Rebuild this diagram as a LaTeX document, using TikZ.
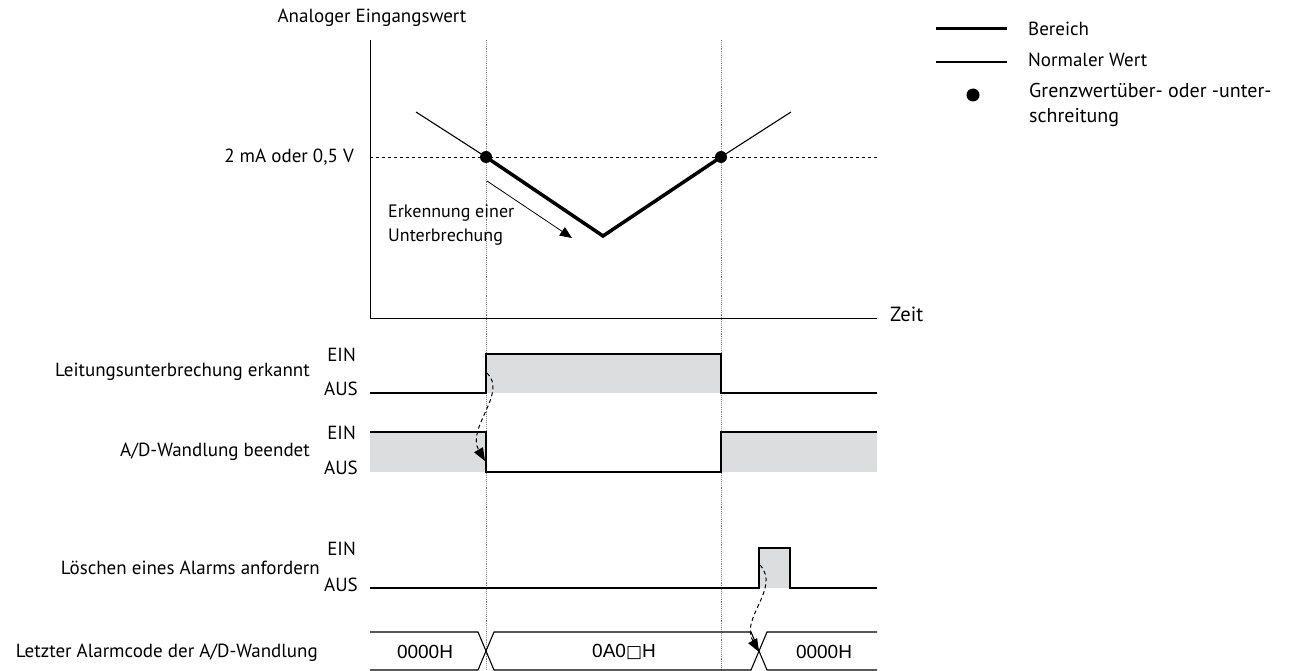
\documentclass[tikz,border=0pt]{standalone}
\usepackage{fontspec}
\setmainfont{PT Sans}
\newfontfamily\arialf{Liberation Sans}
\newfontfamily\symf{DejaVu Sans}
\usetikzlibrary{arrows.meta}
\definecolor{sig}{HTML}{DCDDDF}
\begin{document}
\begin{tikzpicture}[x=1pt,y=-1pt,
  every node/.style={font=\fontsize{19}{24}\selectfont, inner sep=0pt},
  wave/.style={line width=1.1},
  guide/.style={gray, densely dotted, line width=0.9},
  dasharrow/.style={dash pattern=on 4pt off 3pt, line width=1, -{Triangle[length=13,width=10]}},
  buslbl/.style={font=\arialf\fontsize{19}{22}\selectfont}]
\useasboundingbox (0,0) rectangle (1296,671);
% guides
\coordinate (g1t) at (486,40); \coordinate (g1b) at (486,671);
\coordinate (g2t) at (721,40); \coordinate (g2b) at (721,671);
\draw[guide] (g1t) -- (g1b);
\draw[guide] (g2t) -- (g2b);
% axes
\coordinate (ytop) at (370,40); \coordinate (org) at (370,318); \coordinate (xend) at (877,318);
\draw[line width=0.9] (ytop) -- (org) -- (xend);
\node[anchor=west] (zeit) at (890,314) {\fontsize{20.5}{24}\selectfont Zeit};
\node (title) at (372,18) {Analoger Eingangswert};
\coordinate (th1) at (370,157); \coordinate (th2) at (877,157);
\draw[dashed, line width=0.8] (th1) -- (th2);
\node[anchor=east] (thl) at (354,157) {2 mA oder 0,5 V};
% curve
\coordinate (c0) at (416,112); \coordinate (c1) at (486,157); \coordinate (c2) at (603,236);
\coordinate (c3) at (721,157); \coordinate (c4) at (791,112);
\draw[line width=1.1] (c0) -- (c1);
\draw[line width=3.5, line join=miter] (c1) -- (c2) -- (c3);
\draw[line width=1.1] (c3) -- (c4);
\fill (c1) circle (6);
\fill (c3) circle (6);
\coordinate (a0) at (487,181); \coordinate (a1) at (572,238);
\draw[line width=0.8, -{Triangle[length=12,width=10]}] (a0) -- (a1);
\node[anchor=west, align=left, font=\fontsize{18}{24}\selectfont] (erk) at (388,225) {Erkennung einer\\Unterbrechung};
% legend
\coordinate (l1a) at (936,29); \coordinate (l1b) at (1007,29);
\coordinate (l2a) at (936,62); \coordinate (l2b) at (1007,62);
\draw[line width=3] (l1a) -- (l1b);
\draw[line width=1.1] (l2a) -- (l2b);
\fill (973,95) circle (6.5);
\node[anchor=west] (lg1) at (1028,29) {Bereich};
\node[anchor=west] (lg2) at (1028,60) {Normaler Wert};
\node[anchor=west, align=left, font=\fontsize{20}{25}\selectfont] (lg3) at (1029,105) {Grenzwertüber- oder -unter-\\schreitung};
% row 1
\fill[sig] (486,354) rectangle (721,393);
\draw[wave] (370,393) -- (486,393) -- (486,354) -- (721,354) -- (721,393) -- (877,393);
\node[anchor=east] (r1) at (310,372) {Leitungsunterbrechung erkannt};
\node[anchor=east] (r1e) at (356,355) {EIN};
\node[anchor=east] (r1a) at (358,389) {AUS};
% row 2
\fill[sig] (370,432) rectangle (486,472);
\fill[sig] (721,432) rectangle (877,472);
\draw[wave] (370,432) -- (486,432) -- (486,472) -- (721,472) -- (721,432) -- (877,432);
\node[anchor=east] (r2) at (310,452) {A/D-Wandlung beendet};
\node[anchor=east] (r2e) at (356,433) {EIN};
\node[anchor=east] (r2a) at (358,468) {AUS};
% row 3
\fill[sig] (759,548) rectangle (790,588);
\draw[wave] (370,588) -- (759,588) -- (759,548) -- (790,548) -- (790,588) -- (877,588);
\node[anchor=east] (r3) at (320,568) {Löschen eines Alarms anfordern};
\node[anchor=east] (r3e) at (356,549) {EIN};
\node[anchor=east] (r3a) at (358,585) {AUS};
% row 4 bus
\draw[wave] (370,632) -- (478,632) -- (494,670) -- (751,670) -- (767,632) -- (877,632);
\draw[wave] (370,670) -- (478,670) -- (494,632) -- (751,632) -- (767,670) -- (877,670);
\node[anchor=east] (r4) at (318,653) {Letzter Alarmcode der A/D-Wandlung};
\node[buslbl] (b1) at (425,652) {0000H};
\node[buslbl] (b2) at (624,652) {0A0{\symf\fontsize{17}{20}\selectfont □}H};
\node[buslbl] (b3) at (824,652) {0000H};
% dashed arrows
\coordinate (d1s) at (487,373); \coordinate (d1e) at (485,461);
\draw[dasharrow] (d1s) .. controls (508,393) and (466,428) .. (d1e);
\coordinate (d2s) at (760,565); \coordinate (d2e) at (759,652);
\draw[dasharrow] (d2s) .. controls (781,588) and (740,618) .. (d2e);
\end{tikzpicture}
\end{document}
